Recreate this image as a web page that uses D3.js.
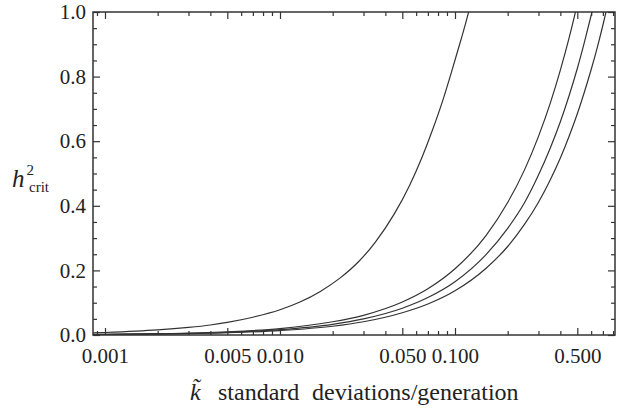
<!DOCTYPE html>
<html>
<head>
<meta charset="utf-8">
<script src="https://cdn.jsdelivr.net/npm/d3@7"></script>
<style>
body { margin:0; background:#fff; }
svg text { font-family:"Liberation Serif","Times New Roman",serif; }
.axis line { stroke:#333; stroke-width:1.2; }
.axis path { display:none; }
</style>
</head>
<body>
<svg class="graph1"></svg>
<script>
// k values (standard deviations/generation) and h^2 crit
var kSteep = [0.00085,0.001,0.0015,0.002,0.003,0.004,0.005,0.007,0.01,0.013,0.017,0.022,0.028,0.035,0.045,0.055,0.065,0.075,0.085,0.095,0.105,0.115,0.125,0.135];
var hSteep = [0.0066,0.0078,0.0117,0.0156,0.0234,0.031,0.039,0.055,0.078,0.102,0.135,0.176,0.226,0.287,0.375,0.463,0.552,0.64,0.725,0.81,0.89,0.965,1.04,1.115];

var kFlat = [0.00085,0.001,0.002,0.005,0.01,0.02,0.03,0.05,0.07,0.1,0.15,0.2,0.25,0.3,0.35,0.4,0.45,0.5,0.55,0.6,0.65,0.7,0.75,0.8];
var hA = [0.0017,0.002,0.004,0.010,0.020,0.041,0.061,0.102,0.143,0.205,0.307,0.41,0.512,0.615,0.717,0.82,0.922,1.025,1.13,1.23,1.33,1.43,1.54,1.64];
var hB = [0.0014,0.00165,0.0033,0.0083,0.0165,0.033,0.050,0.083,0.116,0.165,0.248,0.33,0.41,0.495,0.578,0.66,0.743,0.825,0.908,0.99,1.07,1.155,1.24,1.32];
var hC = [0.0012,0.0014,0.0027,0.0069,0.0137,0.027,0.041,0.069,0.096,0.137,0.206,0.274,0.343,0.411,0.48,0.548,0.617,0.685,0.754,0.822,0.89,0.959,1.028,1.096];

// tick values
var xMajor = [0.001,0.005,0.01,0.05,0.1,0.5];
var xMajorLabels = ["0.001","0.005","0.010","0.050","0.100","0.500"];
var xMinor = [0.0009,0.002,0.003,0.004,0.006,0.007,0.008,0.009,0.02,0.03,0.04,0.06,0.07,0.08,0.09,0.2,0.3,0.4,0.6,0.7,0.8];
var yMajor = [0,0.2,0.4,0.6,0.8,1.0];
var yMajorLabels = ["0.0","0.2","0.4","0.6","0.8","1.0"];
var yMinor = [0.05,0.1,0.15,0.25,0.3,0.35,0.45,0.5,0.55,0.65,0.7,0.75,0.85,0.9,0.95];

var makeTranslateString = function(x,y)
{
    return "translate("+x+","+y+")";
}

var screen = {width:620,height:410}
var margins = {left:93,right:5,top:12,bottom:75}
var graph = {
    width:screen.width-margins.left-margins.right,
    height:screen.height-margins.top-margins.bottom
}

var svg = d3.select(".graph1")
    .attr("width",screen.width)
    .attr("height",screen.height)

var xScale = d3.scaleLog()
    .domain([0.000854,0.821])
    .range([0,graph.width])

var yScale = d3.scaleLinear()
    .domain([0,1])
    .range([graph.height,0])

var target = svg.append("g")
    .attr("transform",makeTranslateString(margins.left,margins.top))

target.append("clipPath")
    .attr("id","plotclip")
    .append("rect")
    .attr("width",graph.width)
    .attr("height",graph.height)

// curves
var line = d3.line()
    .x(function(d){return xScale(d[0]);})
    .y(function(d){return yScale(d[1]);})
    .curve(d3.curveMonotoneX)

var curves = [
    d3.zip(kSteep,hSteep),
    d3.zip(kFlat,hA),
    d3.zip(kFlat,hB),
    d3.zip(kFlat,hC)
]

target.append("g")
    .attr("clip-path","url(#plotclip)")
    .selectAll("path")
    .data(curves)
    .enter()
    .append("path")
    .attr("d",line)
    .attr("fill","none")
    .attr("stroke","#333")
    .attr("stroke-width",1.2)

// axes, ticks pointing inward
var fmtX = function(d){return xMajorLabels[xMajor.indexOf(d)];}
var fmtY = function(d){return yMajorLabels[yMajor.indexOf(d)];}

var addAxis = function(axis,x,y)
{
    var g = target.append("g")
        .classed("axis",true)
        .attr("transform",makeTranslateString(x,y))
        .call(axis)
    g.selectAll("text")
        .attr("fill","#222")
        .style("font-family","'Liberation Serif', serif")
        .style("font-size","21px")
}

addAxis(d3.axisBottom(xScale).tickValues(xMajor).tickSize(-7).tickPadding(13).tickFormat(fmtX),0,graph.height)
addAxis(d3.axisBottom(xScale).tickValues(xMinor).tickSize(-4).tickFormat(""),0,graph.height)
addAxis(d3.axisTop(xScale).tickValues(xMajor).tickSize(-7).tickFormat(""),0,0)
addAxis(d3.axisTop(xScale).tickValues(xMinor).tickSize(-4).tickFormat(""),0,0)
addAxis(d3.axisLeft(yScale).tickValues(yMajor).tickSize(-7).tickPadding(7).tickFormat(fmtY),0,0)
addAxis(d3.axisLeft(yScale).tickValues(yMinor).tickSize(-4).tickFormat(""),0,0)
addAxis(d3.axisRight(yScale).tickValues(yMajor).tickSize(-7).tickFormat(""),graph.width,0)
addAxis(d3.axisRight(yScale).tickValues(yMinor).tickSize(-4).tickFormat(""),graph.width,0)

// frame
target.append("rect")
    .attr("width",graph.width)
    .attr("height",graph.height)
    .attr("fill","none")
    .attr("stroke","#333")
    .attr("stroke-width",1.5)

// x label, combining tilde over the italic k
var xt = svg.append("text")
    .attr("y",400)
    .attr("fill","#222")
    .style("font-size","24px")
xt.append("tspan").attr("x",190).style("font-style","italic").text("k\u0303")
xt.append("tspan").attr("x",218).text("standard")
xt.append("tspan").attr("x",312).text("deviations/generation")

// y label
var yt = svg.append("text")
    .attr("x",12)
    .attr("y",187)
    .attr("fill","#222")
yt.append("tspan").style("font-style","italic").style("font-size","25px").text("h")
yt.append("tspan").style("font-size","15px").attr("dy",-12).attr("dx",2).text("2")
yt.append("tspan").style("font-size","15px").attr("x",29).attr("y",192).text("crit")
</script>
</body>
</html>
